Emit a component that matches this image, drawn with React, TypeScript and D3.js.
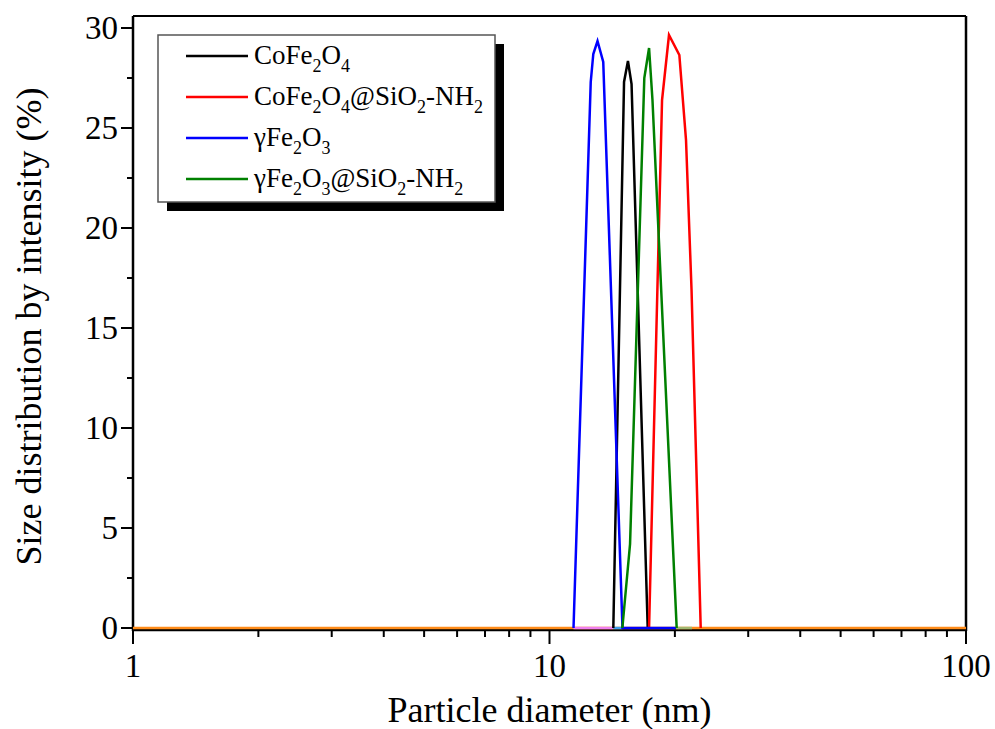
import React from "react";
import * as d3 from "d3";

// ---- data ----
const blackX = [14.23, 15.1, 15.43, 15.74, 17.21];
const blackY = [0, 27.3, 28.35, 27.2, 0];

const redX = [17.34, 18.63, 19.36, 20.5, 21.27, 21.93, 23.07];
const redY = [0, 26.4, 29.65, 28.65, 24.4, 16.9, 0];

const blueX = [11.42, 12.56, 12.74, 13.04, 13.46, 14.97, 20.13];
const blueY = [0, 27.3, 28.7, 29.35, 28.3, 0, 0];

const greenX = [14.96, 15.61, 16.89, 17.34, 17.67, 20.2];
const greenY = [0, 4.2, 27.5, 29.0, 26.4, 0];

// baseline fragments of the hidden series
const orangeX = [1, 100];
const orangeY = [0, 0];
const magentaX = [11.42, 14.23];
const magentaY = [0, 0];
const lightBlueX = [14.23, 14.97];
const lightBlueY = [0, 0];
const oliveX = [20.13, 21.99];
const oliveY = [0, 0];

const xTickValues = [1, 10, 100];
const xTickLabels = ["1", "10", "100"];
const yTickValues = [0, 5, 10, 15, 20, 25, 30];
const yTickLabels = ["0", "5", "10", "15", "20", "25", "30"];

const legendLabels = [
  "CoFe_{2}O_{4}",
  "CoFe_{2}O_{4}@SiO_{2}-NH_{2}",
  "γFe_{2}O_{3}",
  "γFe_{2}O_{3}@SiO_{2}-NH_{2}",
];
const legendColors = ["#000000", "#ff0000", "#0000ff", "#008000"];

const xTitle = "Particle diameter (nm)";
const yTitle = "Size distribution by intensity (%)";

// ---- layout ----
const W = 995;
const H = 729;
const L = 133;
const R = 966;
const FONT = "'Liberation Serif', 'Times New Roman', serif";

const x = d3.scaleLog().domain([1, 100]).range([L, R]);
const y = d3.scaleLinear().domain([0, 30]).range([628, 28]);
const yTop = y(30.6);
const yBottom = y(0);

function zip(xs: number[], ys: number[]) {
  return xs.map((v, i) => [v, ys[i]] as [number, number]);
}

const line = d3
  .line<[number, number]>()
  .x((d) => x(d[0]))
  .y((d) => y(d[1]));

function parseRich(s: string) {
  const parts: { t: string; sub: boolean }[] = [];
  const re = /_\{([^}]*)\}/g;
  let last = 0;
  let m: RegExpExecArray | null;
  while ((m = re.exec(s))) {
    if (m.index > last) parts.push({ t: s.slice(last, m.index), sub: false });
    parts.push({ t: m[1], sub: true });
    last = m.index + m[0].length;
  }
  if (last < s.length) parts.push({ t: s.slice(last), sub: false });
  return parts;
}

export default function App() {
  const minorX: number[] = [];
  for (const dec of [1, 10]) for (let k = 2; k <= 9; k++) minorX.push(dec * k);
  const minorY: number[] = [];
  for (let v = 2.5; v < 30; v += 5) minorY.push(v);

  const series = [
    { xs: orangeX, ys: orangeY, c: "#ff8c1a", w: 2.5 },
    { xs: magentaX, ys: magentaY, c: "#f080f0", w: 2.5 },
    { xs: lightBlueX, ys: lightBlueY, c: "#3fa0f0", w: 2.5 },
    { xs: oliveX, ys: oliveY, c: "#a0b870", w: 2.5 },
    { xs: blackX, ys: blackY, c: "#000000", w: 2.5 },
    { xs: redX, ys: redY, c: "#ff0000", w: 2.5 },
    { xs: blueX, ys: blueY, c: "#0000ff", w: 2.5 },
    { xs: greenX, ys: greenY, c: "#008000", w: 2.5 },
  ];

  const legX = 158;
  const legY = 35;
  const legW = 337;
  const legH = 167;
  const rowY = [56, 97, 138, 179];

  return (
    <svg
      width={W}
      height={H}
      style={{ position: "absolute", left: 0, top: 0, background: "#fff" }}
      fontFamily={FONT}
    >
      <rect x={0} y={0} width={W} height={H} fill="#fff" />

      {/* frame */}
      <line x1={L} x2={L} y1={yTop} y2={yBottom + 3} stroke="#000" strokeWidth={2.5} />
      <line x1={R} x2={R} y1={yTop} y2={yBottom + 3} stroke="#000" strokeWidth={2.5} />
      <line x1={L} x2={R} y1={yTop} y2={yTop} stroke="#000" strokeWidth={2} />
      <line x1={L - 1} x2={R + 1} y1={yBottom + 2} y2={yBottom + 2} stroke="#000" strokeWidth={2.5} />

      {/* y ticks */}
      {yTickValues.map((v, i) => (
        <g key={"yt" + i}>
          <line x1={L - 12} x2={L} y1={y(v)} y2={y(v)} stroke="#000" strokeWidth={2} />
          <text x={L - 15} y={y(v) + 11} fontSize={33} textAnchor="end" fill="#000">
            {yTickLabels[i]}
          </text>
        </g>
      ))}
      {minorY.map((v, i) => (
        <line key={"ym" + i} x1={L - 6} x2={L} y1={y(v)} y2={y(v)} stroke="#000" strokeWidth={2} />
      ))}

      {/* x ticks */}
      {xTickValues.map((v, i) => (
        <g key={"xt" + i}>
          <line x1={x(v)} x2={x(v)} y1={yBottom + 2} y2={yBottom + 16} stroke="#000" strokeWidth={2} />
          <text x={x(v)} y={677} fontSize={33} textAnchor="middle" fill="#000">
            {xTickLabels[i]}
          </text>
        </g>
      ))}
      {minorX.map((v, i) => (
        <line key={"xm" + i} x1={x(v)} x2={x(v)} y1={yBottom + 2} y2={yBottom + 9} stroke="#000" strokeWidth={2} />
      ))}

      {/* series */}
      {series.map((s, i) => (
        <path
          key={"s" + i}
          d={line(zip(s.xs, s.ys)) || ""}
          fill="none"
          stroke={s.c}
          strokeWidth={s.w}
          strokeLinejoin="miter"
        />
      ))}

      {/* axis titles */}
      <text x={(L + R) / 2} y={722} fontSize={36} textAnchor="middle" fill="#000">
        {xTitle}
      </text>
      <text
        transform={`translate(41, ${(88 + 565) / 2}) rotate(-90)`}
        fontSize={36}
        textAnchor="middle"
        fill="#000"
      >
        {yTitle}
      </text>

      {/* legend */}
      <rect x={legX + 9} y={legY + 9} width={legW} height={legH} fill="#000" />
      <rect x={legX} y={legY} width={legW} height={legH} fill="#fff" stroke="#555" strokeWidth={1.5} />
      {legendLabels.map((lab, i) => (
        <g key={"lg" + i}>
          <line x1={186} x2={248} y1={rowY[i]} y2={rowY[i]} stroke={legendColors[i]} strokeWidth={2.5} />
          <text x={254} y={rowY[i] + 8} fontSize={27} fill="#000">
            {parseRich(lab).map((p, j) =>
              p.sub ? (
                <tspan key={j} fontSize={18} dy={8}>
                  {p.t}
                </tspan>
              ) : (
                <tspan key={j} dy={j > 0 && parseRich(lab)[j - 1].sub ? -8 : 0}>
                  {p.t}
                </tspan>
              )
            )}
          </text>
        </g>
      ))}
    </svg>
  );
}
